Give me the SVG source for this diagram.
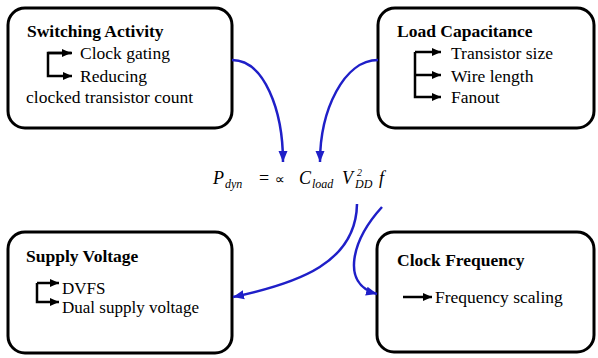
<svg xmlns="http://www.w3.org/2000/svg" width="598" height="358" viewBox="0 0 598 358">
<style>
.box{fill:#fff;stroke:#000;stroke-width:3}
.br{fill:none;stroke:#000;stroke-width:2.5}
.conn{fill:none;stroke:#1f1fc8;stroke-width:2.5}
</style>
<defs>
<marker id="ab" markerUnits="userSpaceOnUse" markerWidth="12" markerHeight="12" viewBox="0 0 12 12" refX="11" refY="6" orient="auto">
<path d="M0,1.5 L11,6 L0,10.5 Z" fill="#1f1fc8"/>
</marker>
<marker id="ak" markerUnits="userSpaceOnUse" markerWidth="10" markerHeight="10" viewBox="0 0 10 10" refX="9" refY="5" orient="auto">
<path d="M0,1 L9,5 L0,9 Z" fill="#000"/>
</marker>
</defs>
<g id="switching">
<rect class="box" x="8" y="8" width="224" height="120" rx="17"/>
<text x="27" y="37" font-family="Liberation Serif" font-size="17.5" font-weight="bold">Switching Activity</text>
<path class="br" d="M72,53 H48 V76 H72" marker-end="url(#ak)"/>
<path class="br" d="M48,53 H71" marker-end="url(#ak)"/>
<text x="80" y="59" font-family="Liberation Serif" font-size="17.5">Clock gating</text>
<text x="80" y="82" font-family="Liberation Serif" font-size="17.5">Reducing</text>
<text x="26" y="103" font-family="Liberation Serif" font-size="17.5">clocked transistor count</text>
</g>
<g id="load">
<rect class="box" x="378" y="8" width="216" height="120" rx="17"/>
<text x="397" y="37" font-family="Liberation Serif" font-size="17.5" font-weight="bold">Load Capacitance</text>
<path class="br" d="M415,52 V97 H441" marker-end="url(#ak)"/>
<path class="br" d="M415,52 H441" marker-end="url(#ak)"/>
<path class="br" d="M415,75 H441" marker-end="url(#ak)"/>
<text x="451" y="59" font-family="Liberation Serif" font-size="17.5">Transistor size</text>
<text x="451" y="82" font-family="Liberation Serif" font-size="17.5">Wire length</text>
<text x="451" y="103" font-family="Liberation Serif" font-size="17.5">Fanout</text>
</g>
<g id="supply">
<rect class="box" x="8" y="232" width="224" height="121" rx="17"/>
<text x="26" y="262" font-family="Liberation Serif" font-size="17.5" font-weight="bold">Supply Voltage</text>
<path class="br" d="M37,283 V302 H59" marker-end="url(#ak)"/>
<path class="br" d="M37,283 H59" marker-end="url(#ak)"/>
<text x="62" y="294" font-family="Liberation Serif" font-size="17">DVFS</text>
<text x="62" y="313" font-family="Liberation Serif" font-size="17">Dual supply voltage</text>
</g>
<g id="clock">
<rect class="box" x="377" y="232" width="217" height="120" rx="17"/>
<text x="397" y="266" font-family="Liberation Serif" font-size="17.5" font-weight="bold">Clock Frequency</text>
<path class="br" d="M403,297 H432" marker-end="url(#ak)"/>
<text x="435" y="303" font-family="Liberation Serif" font-size="17.5">Frequency scaling</text>
</g>
<g id="equation">
<text x="213" y="184" font-family="Liberation Serif" font-size="18" font-style="italic">P</text>
<text x="225" y="188" font-family="Liberation Serif" font-size="12" font-style="italic">dyn</text>
<text x="259" y="184" font-family="Liberation Serif" font-size="18">=</text>
<text x="275" y="184" font-family="DejaVu Sans" font-size="14">∝</text>
<text x="299" y="184" font-family="Liberation Serif" font-size="18" font-style="italic">C</text>
<text x="312" y="188" font-family="Liberation Serif" font-size="12" font-style="italic">load</text>
<text x="342" y="184" font-family="Liberation Serif" font-size="18" font-style="italic">V</text>
<text x="357" y="176" font-family="Liberation Serif" font-size="10" font-style="italic">2</text>
<text x="355" y="188" font-family="Liberation Serif" font-size="12" font-style="italic">DD</text>
<text x="379" y="184" font-family="Liberation Serif" font-size="18" font-style="italic">f</text>
</g>
<g id="connectors">
<path class="conn" d="M232,60 C264,60 283,110 283,162" marker-end="url(#ab)"/>
<path class="conn" d="M378,60 C344,60 320,110 320,162" marker-end="url(#ab)"/>
<path class="conn" d="M357,204 C356,262 300,283 233,297" marker-end="url(#ab)"/>
<path class="conn" d="M382,207 C352,240 340,284 377,294" marker-end="url(#ab)"/>
</g>
</svg>
